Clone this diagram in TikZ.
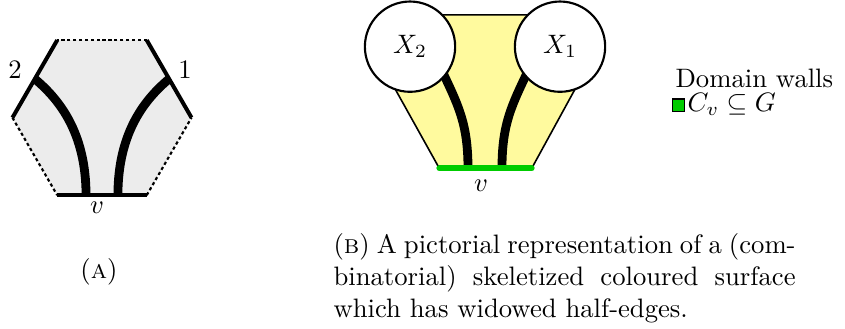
\documentclass[tikz,border=0pt]{standalone}
\usepackage{amsmath,amssymb}
\usepackage{tikz}
\usetikzlibrary{positioning,calc,backgrounds}
\definecolor{surface}{HTML}{FFFA9E}
\definecolor{wallgreen}{HTML}{00CC00}

\begin{document}
\begin{tikzpicture}[
    hexside/.style={line width=1.5pt},
    dashside/.style={thick, dash pattern=on 1.2pt off 1pt},
    wall/.style={line width=3.3pt},
    disc/.style={circle, draw, thick, fill=white, minimum size=1.19cm, inner sep=0pt},
    greenedge/.style={line width=2.2pt, wallgreen, line cap=round}
  ]
    \useasboundingbox (0,0) rectangle (11.137,4.336);

    % (a) hexagon
    \coordinate (hc) at (1.344,2.785);
    \coordinate (h0) at ($(hc)+(0:1.18)$);
    \coordinate (h1) at ($(hc)+(60:1.18)$);
    \coordinate (h2) at ($(hc)+(120:1.18)$);
    \coordinate (h3) at ($(hc)+(180:1.18)$);
    \coordinate (h4) at ($(hc)+(240:1.18)$);
    \coordinate (h5) at ($(hc)+(300:1.18)$);
    \coordinate (m1) at ($(h0)!0.5!(h1)$);
    \coordinate (m2) at ($(h2)!0.5!(h3)$);
    \coordinate (e2) at ($(hc)+(-0.21,-1.022)$);
    \coordinate (e1) at ($(hc)+(0.21,-1.022)$);

    \fill[gray!15] (h0) -- (h1) -- (h2) -- (h3) -- (h4) -- (h5) -- cycle;
    \draw[wall] (m2) .. controls +(-40:0.4) and +(0,0.84) .. (e2);
    \draw[wall] (m1) .. controls +(-140:0.4) and +(0,0.84) .. (e1);
    \draw[hexside] (h0) -- (h1);
    \draw[dashside] (h1) -- (h2);
    \draw[hexside] (h2) -- (h3);
    \draw[dashside] (h3) -- (h4);
    \draw[hexside] (h4) -- (h5);
    \draw[dashside] (h5) -- (h0);

    \node (two) at (0.198,3.414) {$2$};
    \node (one) at (2.438,3.414) {$1$};
    \node (va) at (1.278,1.60) {$v$};
    \node (capa) at (1.305,0.751) {(\textsc{a})};

    % (b) coloured surface
    \node[disc] (X2) at (5.404,3.721) {$X_2$};
    \node[disc] (X1) at (7.381,3.721) {$X_1$};
    \coordinate (bl) at (5.790,2.118);
    \coordinate (br) at (7.008,2.118);
    \coordinate (w2) at (6.168,2.118);
    \coordinate (w1) at (6.616,2.118);

    \begin{scope}[on background layer]
      \filldraw[fill=surface, semithick] (bl) -- (4.995,3.545) -- (5.206,4.139)
        -- (7.579,4.139) -- (7.789,3.545) -- (br) -- cycle;
      \draw[wall, shorten <=-3pt] (X2.-41) .. controls +(-65:0.4) and +(0,0.6) .. (w2);
      \draw[wall, shorten <=-3pt] (X1.-139) .. controls +(-115:0.4) and +(0,0.6) .. (w1);
    \end{scope}
    \draw[greenedge] (bl) -- (br);
    \node (vb) at (6.340,1.89) {$v$};

    \node[anchor=base west, inner sep=0pt] (legend) at (8.897,3.177) {Domain walls};
    \node[draw, fill=wallgreen, minimum size=0.16cm, inner sep=0pt, anchor=south west] (swatch) at (8.853,2.864) {};
    \node[anchor=base west, inner sep=0pt] (walls) at (9.055,2.864) {$C_v \subseteq G$};

    \node[anchor=base west, text width=6.09cm, align=justify, inner sep=0pt] (capb) at (4.389,0.989)
      {(\textsc{b}) A pictorial representation of a (combinatorial) skeletized coloured surface which has widowed half-edges.};
\end{tikzpicture}
\end{document}
